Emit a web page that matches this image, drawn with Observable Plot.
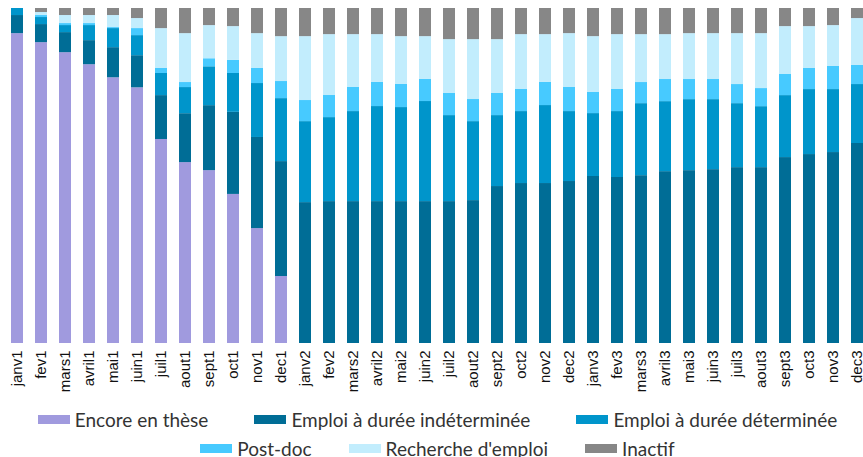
<!DOCTYPE html>
<html>
<head>
<meta charset="utf-8">
<script src="https://cdn.jsdelivr.net/npm/d3@7"></script>
<script src="https://cdn.jsdelivr.net/npm/@observablehq/plot@0.6"></script>
<style>
  html, body { margin: 0; padding: 0; background: #fff; }
  #chart svg text { font-family: "Liberation Sans", Arial, sans-serif !important; font-size: 15px !important; fill: #111; }
  #legend { box-sizing: border-box; width: 863px; padding-left: 12px; font-family: Lato, "Open Sans", sans-serif; font-size: 19px; color: #333; padding-top: 3px; }
  .row { display: flex; justify-content: center; height: 29px; align-items: center; }
  .row1 { gap: 46px; }
  .row2 { gap: 37px; }
  .item { display: flex; align-items: center; }
  .sw { width: 32px; height: 9px; margin-right: 5px; }
</style>
</head>
<body>
<div id="chart"></div>
<div id="legend"></div>
<script>
const months = ["janv1","fev1","mars1","avril1","mai1","juin1","juil1","aout1","sept1","oct1","nov1","dec1",
  "janv2","fev2","mars2","avril2","mai2","juin2","juil2","aout2","sept2","oct2","nov2","dec2",
  "janv3","fev3","mars3","avril3","mai3","juin3","juil3","aout3","sept3","oct3","nov3","dec3"];
const categories = ["Encore en thèse","Emploi à durée indéterminée","Emploi à durée déterminée","Post-doc","Recherche d'emploi","Inactif"];
const colors = ["#a09ade","#006d96","#0095cb","#47caff","#c2edfd","#878787"];

const encore    = [92.5,89.9,86.9,83.3,79.4,76.4,60.9,54.0,51.6,44.5,34.3,20.0, 0,0,0,0,0,0,0,0,0,0,0,0, 0,0,0,0,0,0,0,0,0,0,0,0];
const edi       = [5.4,5.4,6.0,7.2,9.0,9.6,13.1,14.6,19.4,24.5,27.2,34.3, 42.1,42.4,42.4,42.4,42.4,42.4,42.4,42.7,46.9,47.8,47.8,48.4, 49.9,49.6,50.1,51.3,51.6,51.9,52.5,52.5,55.5,56.4,57.0,59.7];
const edd       = [2.1,2.1,2.1,4.5,5.7,6.0,6.6,7.8,11.6,11.6,16.1,18.8, 24.2,25.1,26.9,28.4,28.1,29.9,25.7,23.6,21.2,21.5,23.3,20.9, 18.8,19.7,21.5,20.9,21.2,20.9,19.1,18.2,18.5,19.4,18.8,17.6];
const postdoc   = [0,0.6,0.6,0.6,0.3,2.1,1.5,1.5,2.4,3.9,4.5,5.1, 6.3,6.6,7.2,7.2,6.9,6.6,6.6,6.6,6.6,6.6,6.9,7.2, 6.3,6.6,6.3,6.6,6.0,6.0,5.7,5.4,6.3,6.3,6.9,5.7];
const recherche = [0,0.9,2.4,2.4,3.6,3.0,11.9,14.6,9.9,10.1,10.4,13.4, 19.1,18.2,15.8,14.3,14.3,12.8,16.1,17.9,16.1,16.4,14.3,16.1, 16.7,16.4,14.3,13.4,13.7,13.7,15.2,16.4,14.3,12.5,12.2,14.0];
const inactif   = [0,1.2,2.1,2.1,2.1,3.0,6.0,7.5,5.1,5.4,7.5,8.4, 8.4,7.8,7.8,7.8,8.4,8.4,9.3,9.3,9.3,7.8,7.8,7.5, 8.4,7.8,7.8,7.8,7.5,7.5,7.5,7.5,5.4,5.4,5.1,3.0];

const series = [encore, edi, edd, postdoc, recherche, inactif];
const data = months.flatMap((m, i) => categories.map((c, j) => ({month: m, cat: c, value: series[j][i]})));

const chart = Plot.plot({
  width: 863,
  height: 402,
  marginLeft: 11,
  marginRight: 0,
  marginTop: 8,
  marginBottom: 59,
  style: {background: "#fff"},
  x: {domain: months, paddingInner: 0.5, paddingOuter: 0, label: null, tickRotate: -90, tickSize: 0, tickPadding: 7},
  y: {axis: null, domain: [0, 1]},
  color: {domain: categories, range: colors},
  marks: [
    Plot.barY(data, Plot.stackY({offset: "normalize"}, {x: "month", y: "value", fill: "cat"}))
  ]
});
document.getElementById("chart").appendChild(chart);

const legend = document.getElementById("legend");
const rows = [[0, 1, 2], [3, 4, 5]];
rows.forEach((r, k) => {
  const row = document.createElement("div");
  row.className = "row row" + (k + 1);
  for (const j of r) {
    const it = document.createElement("div");
    it.className = "item";
    const sw = document.createElement("div");
    sw.className = "sw";
    sw.style.background = colors[j];
    const t = document.createElement("span");
    t.textContent = categories[j];
    it.appendChild(sw); it.appendChild(t);
    row.appendChild(it);
  }
  legend.appendChild(row);
});
</script>
</body>
</html>
